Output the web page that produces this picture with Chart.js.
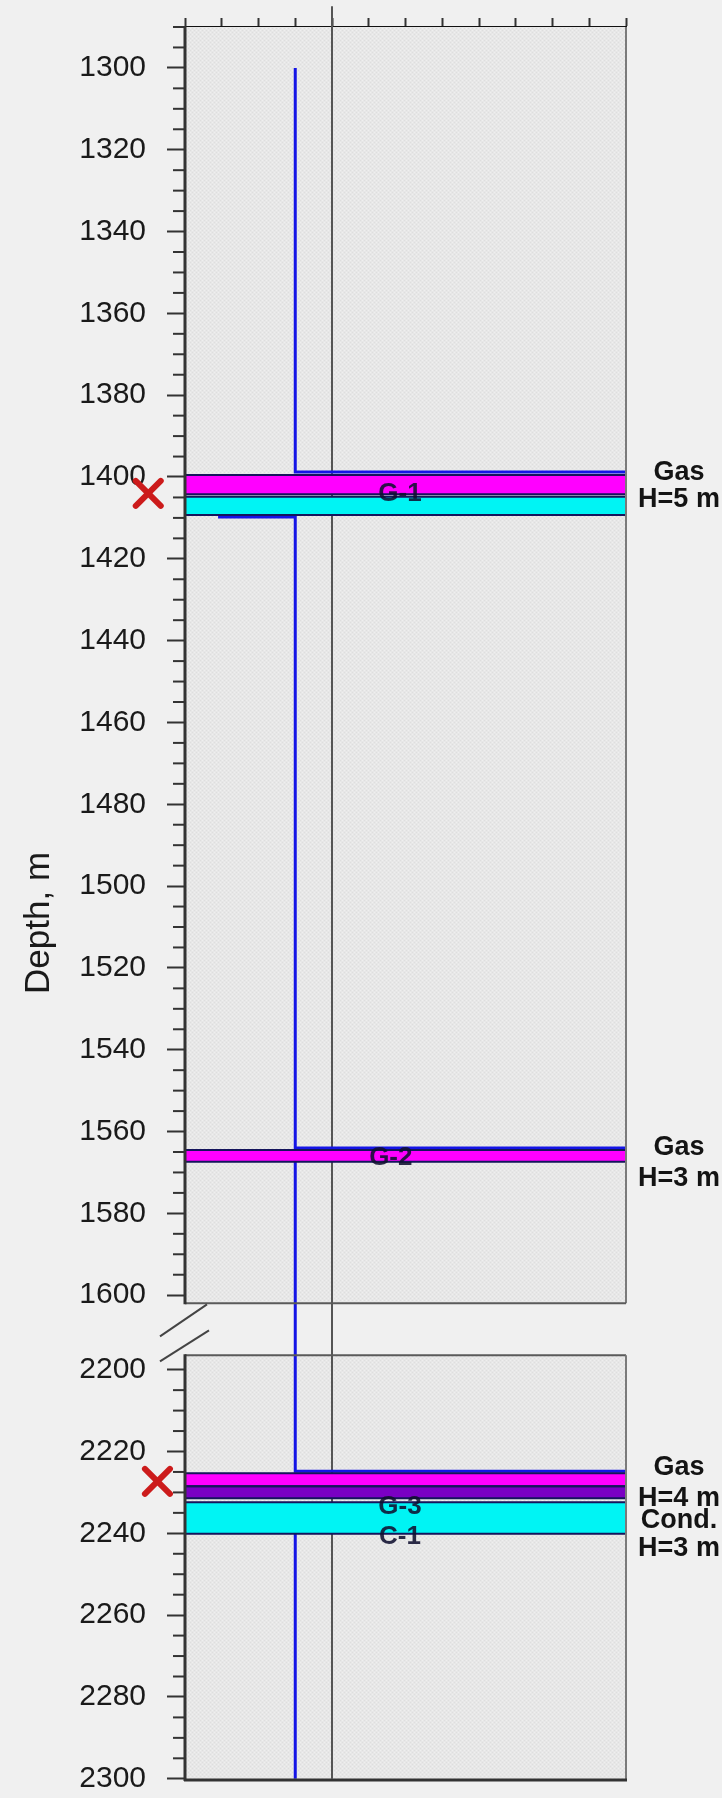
<!DOCTYPE html>
<html>
<head>
<meta charset="utf-8">
<title>Well log – depth</title>
<script src="https://cdn.jsdelivr.net/npm/chart.js@4.4.1/dist/chart.umd.min.js"></script>
<style>
  html, body { margin: 0; padding: 0; background: #f0f0f0; }
  #wrap { width: 722px; height: 1798px; }
</style>
</head>
<body>
<div id="wrap"><canvas id="chart" width="722" height="1798"></canvas></div>
<script>
// --------- Data ----------
// depth windows shown in the two panels (the middle part is cut out)
const upperDepth = [1290, 1602];
const lowerDepth = [2196.5, 2300.3];

const majorTicks = [1300, 1320, 1340, 1360, 1380, 1400, 1420, 1440, 1460, 1480,
                    1500, 1520, 1540, 1560, 1580, 1600,
                    2200, 2220, 2240, 2260, 2280, 2300];

// well trace (x = track column, y = depth)
const wellPathA = [[3, 1300], [3, 1398.8], [12, 1398.8]];
const wellPathB = [[0.9, 1409.8], [3, 1409.8], [3, 2224.8], [12, 2224.8]];
const wellPathC = [[3, 1564], [12, 1564]];
const wellPathD = [[3, 2240], [3, 2300]];

// grey reference line
const refLineX = 4;
const refLineDepth = [1284.9, 2300];

// reservoir layers
const layerTop    = [1399.5, 1404.8, 1564.5, 2225.3, 2228.5, 2232.4];
const layerBottom = [1404.2, 1409.3, 1567.4, 2228.5, 2231.4, 2240.1];
const layerKind   = ['gas', 'cond', 'gas', 'gas', 'mix', 'cond'];

// layer names written on the layers
const zoneNames = ['G-1', 'G-2', 'G-3', 'C-1'];
const zoneDepth = [1404, 1566.4, 2233.6, 2240.8];
const zoneX     = [5.85, 5.6, 5.85, 5.85];

// perforation marks
const perfX     = [-1, -0.75];
const perfDepth = [1404, 2227.3];

// notes at the right side
const noteText  = ['Gas', 'H=5 m', 'Gas', 'H=3 m', 'Gas', 'H=4 m', 'Cond.', 'H=3 m'];
const noteDepth = [1399, 1405.6, 1563.8, 1571.4, 2224, 2231.4, 2237, 2243.7];

// --------- Styles ----------
const KIND_COLOR = { gas: '#ff00ff', cond: '#00f4f4', mix: '#7a00c4' };
const WELL_COLOR = '#1414e6';
const GAP_PX = 52;
const FONT = "'Liberation Sans', Arial, sans-serif";

// --------- Broken depth scale ----------
class BrokenDepthScale extends Chart.LinearScale {
  static id = 'brokenDepth';
  static defaults = {};

  _k() {
    const span = (upperDepth[1] - upperDepth[0]) + (lowerDepth[1] - lowerDepth[0]);
    return (this.bottom - this.top - GAP_PX) / span;
  }
  getPixelForValue(v) {
    if (v === null || v === undefined || isNaN(v)) return NaN;
    const k = this._k();
    const upperPx = (upperDepth[1] - upperDepth[0]) * k;
    if (v <= upperDepth[1]) return this.top + (v - upperDepth[0]) * k;
    if (v >= lowerDepth[0]) return this.top + upperPx + GAP_PX + (v - lowerDepth[0]) * k;
    return this.top + upperPx + (v - upperDepth[1]) / (lowerDepth[0] - upperDepth[1]) * GAP_PX;
  }
  getValueForPixel(p) {
    const k = this._k();
    const upperPx = (upperDepth[1] - upperDepth[0]) * k;
    const d = p - this.top;
    if (d <= upperPx) return upperDepth[0] + d / k;
    if (d >= upperPx + GAP_PX) return lowerDepth[0] + (d - upperPx - GAP_PX) / k;
    return upperDepth[1] + (d - upperPx) / GAP_PX * (lowerDepth[0] - upperDepth[1]);
  }
}
Chart.register(BrokenDepthScale);

// --------- Helpers ----------
const pts = arr => arr.map(([x, y]) => ({ x, y }));

function minorTicks() {
  const out = [];
  [[upperDepth[0], 1600], [2200, 2300]].forEach(([a, b]) => {
    for (let v = a; v <= b; v += 5) if (!majorTicks.includes(v)) out.push(v);
  });
  return out;
}

function lineSet(data, color, width, order, extra = {}) {
  return Object.assign({
    data, showLine: true, borderColor: color, borderWidth: width,
    pointRadius: 0, fill: false, order
  }, extra);
}

// --------- Datasets ----------
const datasets = [];

// layers: fill + outline
layerTop.forEach((top, i) => {
  const bot = layerBottom[i];
  datasets.push(lineSet(pts([[0, top], [0, bot], [12, bot], [12, top], [0, top]]),
    '#15155c', 2, 1));
  datasets.push(lineSet(pts([[0, top], [12, top]]), 'rgba(0,0,0,0)', 0, 2, {
    fill: { value: bot }, backgroundColor: KIND_COLOR[layerKind[i]]
  }));
});

// well trace
[wellPathA, wellPathB, wellPathC, wellPathD].forEach(p => {
  datasets.push(lineSet(pts(p), WELL_COLOR, 3, 3));
});

// grey reference line (runs over the top axis)
datasets.push(lineSet(pts(refLineDepth.map(d => [refLineX, d])), '#555555', 2, 4, { clip: false }));

// --------- Decorations plugin ----------
function panelPattern(ctx) {
  const c = document.createElement('canvas');
  c.width = 4; c.height = 4;
  const g = c.getContext('2d');
  g.fillStyle = '#e7e7e7'; g.fillRect(0, 0, 4, 4);
  g.fillStyle = '#dedede'; g.fillRect(0, 0, 1, 1); g.fillRect(2, 2, 1, 1);
  g.fillStyle = '#efefef'; g.fillRect(2, 0, 1, 1); g.fillRect(0, 2, 1, 1);
  return ctx.createPattern(c, 'repeat');
}

const decor = {
  id: 'decor',
  beforeDatasetsDraw(chart) {
    const { ctx, chartArea: a, scales: { y } } = chart;
    const y0 = y.getPixelForValue(upperDepth[0]), y1 = y.getPixelForValue(upperDepth[1]);
    const y2 = y.getPixelForValue(lowerDepth[0]), y3 = y.getPixelForValue(lowerDepth[1]);
    ctx.save();
    ctx.fillStyle = panelPattern(ctx);
    ctx.fillRect(a.left, y0, a.right - a.left, y1 - y0);
    ctx.fillRect(a.left, y2, a.right - a.left, y3 - y2);
    ctx.restore();
  },
  afterDatasetsDraw(chart) {
    const { ctx, chartArea: a, scales: { x, y } } = chart;
    const y0 = y.getPixelForValue(upperDepth[0]), y1 = y.getPixelForValue(upperDepth[1]);
    const y2 = y.getPixelForValue(lowerDepth[0]), y3 = y.getPixelForValue(lowerDepth[1]);
    ctx.save();
    const seg = (xa, ya, xb, yb, c, w) => {
      ctx.strokeStyle = c; ctx.lineWidth = w;
      ctx.beginPath(); ctx.moveTo(xa, ya); ctx.lineTo(xb, yb); ctx.stroke();
    };
    // frames
    seg(a.right, y0, a.right, y1, '#7a7a7a', 2);
    seg(a.left, y1, a.right, y1, '#5a5a5a', 2);
    seg(a.left, y2, a.right, y2, '#5a5a5a', 2);
    seg(a.right, y2, a.right, y3, '#7a7a7a', 2);
    seg(a.left - 1, y3, a.right + 1, y3, '#333', 3);
    seg(a.left, y0 - 1, a.left, y1 + 1, '#333', 3);
    seg(a.left, y2 - 1, a.left, y3 + 1, '#333', 3);
    // minor ticks
    minorTicks().forEach(v => {
      const p = y.getPixelForValue(v);
      seg(a.left - 12, p, a.left, p, '#333', 2);
    });
    // axis break marks
    seg(a.left + 22, y1 + 1, a.left - 25, y1 + 33, '#444', 2);
    seg(a.left + 24, y1 + 27, a.left - 25, y1 + 58, '#444', 2);

    // perforation crosses (left of the track, outside the plot area)
    ctx.lineCap = 'round';
    perfX.forEach((px, i) => {
      const cx = x.getPixelForValue(px), cy = y.getPixelForValue(perfDepth[i]);
      const r = 12.5;
      seg(cx - r, cy - r, cx + r, cy + r, '#cc1b1b', 6);
      seg(cx - r, cy + r, cx + r, cy - r, '#cc1b1b', 6);
    });
    ctx.lineCap = 'butt';

    // layer names
    ctx.font = `bold 26px ${FONT}`;
    ctx.textAlign = 'center';
    ctx.textBaseline = 'middle';
    ctx.fillStyle = 'rgba(16,16,48,0.88)';
    zoneNames.forEach((n, i) => {
      ctx.fillText(n, x.getPixelForValue(zoneX[i]), y.getPixelForValue(zoneDepth[i]));
    });
    // right-hand notes
    ctx.font = `bold 27px ${FONT}`;
    ctx.fillStyle = '#141414';
    noteText.forEach((t, i) => {
      ctx.fillText(t, a.right + 53, y.getPixelForValue(noteDepth[i]));
    });
    ctx.restore();
  }
};

// --------- Chart ----------
const ctx = document.getElementById('chart').getContext('2d');
new Chart(ctx, {
  type: 'scatter',
  data: { datasets },
  options: {
    responsive: false,
    animation: false,
    layout: { padding: { top: 18, right: 96, bottom: 18, left: 0 } },
    plugins: { legend: { display: false }, tooltip: { enabled: false } },
    scales: {
      x: {
        type: 'linear', position: 'top', min: 0, max: 12,
        ticks: { display: false, stepSize: 1 },
        grid: { drawOnChartArea: false, tickLength: 9, tickColor: '#333', tickWidth: 2 },
        border: { color: '#111', width: 3 }
      },
      y: {
        type: 'brokenDepth', position: 'left', min: upperDepth[0], max: lowerDepth[1],
        afterBuildTicks: s => { s.ticks = majorTicks.map(v => ({ value: v })); },
        afterFit: s => { s.width = 185; s.paddingTop = 0; s.paddingBottom = 0; },
        ticks: {
          autoSkip: false, padding: 21, color: '#1a1a1a',
          font: { family: FONT, size: 30 },
          callback: v => String(v)
        },
        grid: { drawOnChartArea: false, tickLength: 18, tickColor: '#333', tickWidth: 2 },
        border: { display: false },
        title: {
          // trailing spaces push the rotated text a bit lower
          display: true, text: 'Depth, m    ', color: '#1a1a1a',
          font: { family: FONT, size: 35 }, padding: { top: 18, bottom: 0 }
        }
      }
    }
  },
  plugins: [decor]
});
</script>
</body>
</html>
